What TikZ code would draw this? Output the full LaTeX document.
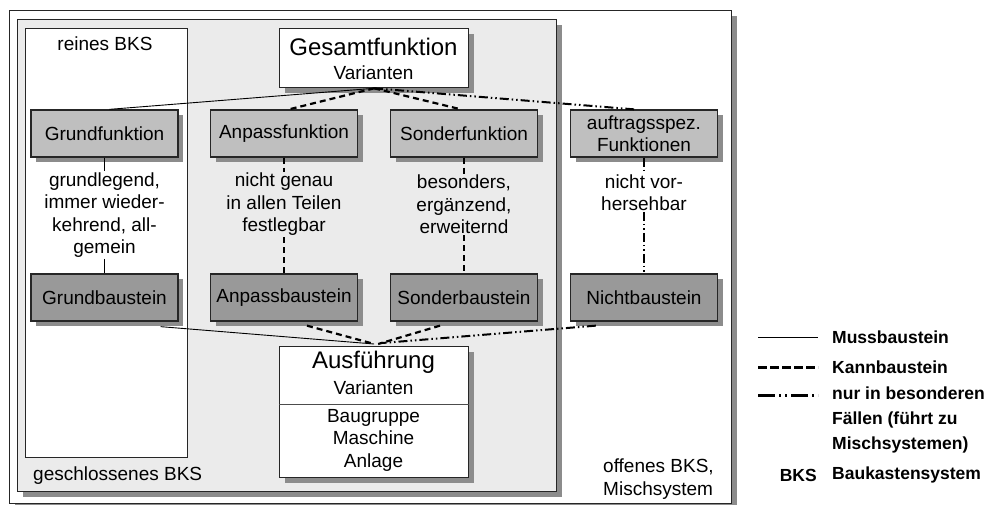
\documentclass[tikz,border=0pt]{standalone}
\usepackage{fontspec}
\setmainfont{Liberation Sans}
\usetikzlibrary{shadows}
\begin{document}
\begin{tikzpicture}[x=1pt,y=-1pt,
  txt/.style={font=\fontsize{19}{22.5}\selectfont, align=center, inner sep=1pt},
  big/.style={font=\fontsize{24}{26}\selectfont, inner sep=1pt},
  shadow5/.style={drop shadow={shadow xshift=5pt,shadow yshift=-5pt,fill=black!45,opacity=1}},
  frame/.style={draw=black!85, line width=1.3pt, inner sep=0pt},
  funcbox/.style={frame, shadow5, fill=black!25, minimum width=147pt, minimum height=47pt, txt},
  basebox/.style={frame, shadow5, fill=black!40, minimum width=147pt, minimum height=47pt, txt},
  muss/.style={line width=0.9pt},
  kann/.style={line width=2.2pt, dash pattern=on 6pt off 4pt},
  sonder/.style={line width=2pt, dash pattern=on 9pt off 3pt on 1.5pt off 3pt on 1.5pt off 3pt},
  kannkey/.style={line width=3pt, dash pattern=on 9pt off 3pt},
  sonderkey/.style={line width=3pt, dash pattern=on 17pt off 4pt on 2pt off 4pt on 2pt off 4pt},
  legend/.style={font=\fontsize{17.5}{25}\selectfont\bfseries, align=left, anchor=west, inner sep=0pt}
]
\useasboundingbox (0,0) rectangle (991,505);

% nested system regions
\node[frame, shadow5, fill=white, minimum width=722pt, minimum height=493pt, anchor=north west] (offen) at (9,10) {};
\node[frame, shadow5, fill=black!8, minimum width=539pt, minimum height=472pt, anchor=north west] (geschl) at (17,19) {};
\node[frame, fill=white, minimum width=162pt, minimum height=429pt, anchor=north west] (rein) at (25,28) {};

\node[txt] (reinT) at (105,44) {reines BKS};
\node[txt, anchor=west] (geschlT) at (32,476) {geschlossenes BKS};
\node[txt, align=left, anchor=west] (offenT) at (602,479) {offenes BKS,\\Mischsystem};

% overall function
\node[frame, shadow5, fill=white, minimum width=189pt, minimum height=59pt, anchor=north west] (gesamt) at (279,28) {};
\node[big] (gesamtT) at (373.5,47) {Gesamtfunktion};
\node[txt] (gesamtV) at (373.5,73) {Varianten};

% function boxes
\node[funcbox] (gf) at (104.5,133.5) {Grundfunktion};
\node[funcbox] (af) at (284,133.5) {Anpassfunktion};
\node[funcbox] (sf) at (464,133.5) {Sonderfunktion};
\node[funcbox] (nf) at (644,133.5) {auftragsspez.\\Funktionen};

% descriptions
\node[txt] (gt) at (104.5,215) {grundlegend,\\immer wieder-\\kehrend, all-\\gemein};
\node[txt] (at) at (284,204.5) {nicht genau\\in allen Teilen\\festlegbar};
\node[txt] (st) at (464,204.5) {besonders,\\ergänzend,\\erweiternd};
\node[txt] (nt) at (644,192.5) {nicht vor-\\hersehbar};

% building blocks
\node[basebox] (gb) at (104.5,297.5) {Grundbaustein};
\node[basebox] (ab) at (284,297.5) {Anpassbaustein};
\node[basebox] (sb) at (464,297.5) {Sonderbaustein};
\node[basebox] (nb) at (644,297.5) {Nichtbaustein};

% design variants
\node[frame, shadow5, fill=white, minimum width=189pt, minimum height=131pt, anchor=north west] (ausf) at (279,346) {};
\draw[line width=1pt, black!70] (ausf.west |- 0,404) -- (ausf.east |- 0,404);
\node[big] (ausfT) at (373.5,362) {Ausführung};
\node[txt] (ausfV) at (373.5,388) {Varianten};
\node[txt] (ausfL) at (373.5,440) {Baugruppe\\Maschine\\Anlage};

% connectors from the overall function
\draw[muss] (gesamt.south) -- ([xshift=5pt]gf.north);
\draw[kann] (gesamt.south) -- ([xshift=5pt]af.north);
\draw[kann] (gesamt.south) -- ([xshift=-3pt]sf.north);
\draw[sonder] (gesamt.south) -- ([xshift=-10pt]nf.north);

% vertical connectors
\draw[muss] (gf.south) -- (gt.north);
\draw[muss] (gt.south) -- (gb.north);
\draw[kann] (af.south) -- (at.north);
\draw[kann] (at.south) -- (ab.north);
\draw[kann] (sf.south) -- (st.north);
\draw[kann] (st.south) -- (sb.north);
\draw[sonder] (nf.south) -- (nt.north);
\draw[sonder] (nt.south) -- (nb.north);

% connectors into the design
\draw[muss] ([xshift=-18pt,yshift=-5pt]gb.south east) -- ([yshift=2pt]ausf.north);
\draw[kann] ([xshift=23pt,yshift=-4pt]ab.south) -- ([yshift=2pt]ausf.north);
\draw[kann] ([xshift=-24pt,yshift=-4pt]sb.south) -- ([xshift=4pt,yshift=2pt]ausf.north);
\draw[sonder] ([xshift=26pt,yshift=-4pt]nb.south west) -- ([xshift=8pt,yshift=3pt]ausf.north);

% legend
\coordinate (k1a) at (758,337); \coordinate (k1b) at (818,337);
\coordinate (k2a) at (758,367); \coordinate (k2b) at (818,367);
\coordinate (k3a) at (758,395); \coordinate (k3b) at (818,395);
\draw[muss] (k1a) -- (k1b);
\draw[kannkey] (k2a) -- (k2b);
\draw[sonderkey] (k3a) -- (k3b);
\node[legend] (k1t) at (832,337) {Mussbaustein};
\node[legend] (k2t) at (832,367) {Kannbaustein};
\node[legend] (k3t) at (832,420) {nur in besonderen\\Fällen (führt zu\\Mischsystemen)};
\node[legend, anchor=east] (k4a) at (817,475) {BKS};
\node[legend] (k4t) at (832,475) {Baukastensystem};
\end{tikzpicture}
\end{document}
